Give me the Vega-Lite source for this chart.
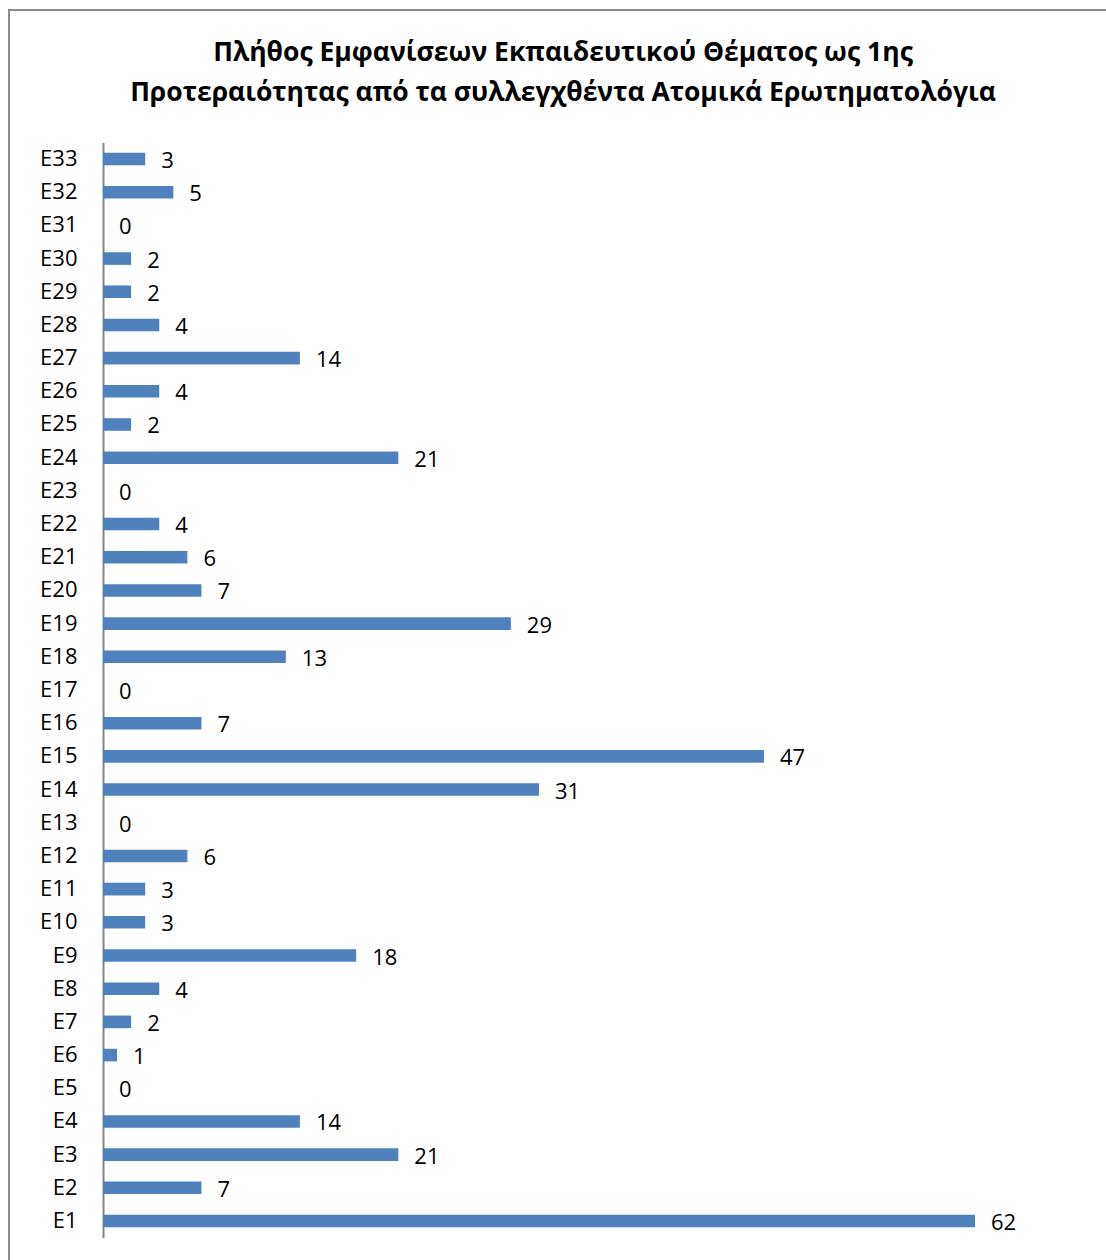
{
  "$schema": "https://vega.github.io/schema/vega-lite/v6.json",
  "autosize": {"type": "none"},
  "padding": {"left": 9, "top": 10, "right": 0, "bottom": 0},
  "width": 1102,
  "height": 1255,
  "background": "white",
  "title": {
    "text": ["Πλήθος Εμφανίσεων Εκπαιδευτικού Θέματος ως 1ης", "Προτεραιότητας από τα συλλεγχθέντα Ατομικά Ερωτηματολόγια"],
    "anchor": "middle",
    "orient": "top",
    "offset": -96,
    "dx": 3,
    "font": "Open Sans",
    "fontWeight": "bold",
    "fontSize": 26.5,
    "lineHeight": 40,
    "color": "black"
  },
  "config": {
    "view": {"stroke": "#8a8a8a", "strokeWidth": 2},
    "font": "Open Sans"
  },
  "data": {"values": [
    {"cat": "E33", "value": 3},
    {"cat": "E32", "value": 5},
    {"cat": "E31", "value": 0},
    {"cat": "E30", "value": 2},
    {"cat": "E29", "value": 2},
    {"cat": "E28", "value": 4},
    {"cat": "E27", "value": 14},
    {"cat": "E26", "value": 4},
    {"cat": "E25", "value": 2},
    {"cat": "E24", "value": 21},
    {"cat": "E23", "value": 0},
    {"cat": "E22", "value": 4},
    {"cat": "E21", "value": 6},
    {"cat": "E20", "value": 7},
    {"cat": "E19", "value": 29},
    {"cat": "E18", "value": 13},
    {"cat": "E17", "value": 0},
    {"cat": "E16", "value": 7},
    {"cat": "E15", "value": 47},
    {"cat": "E14", "value": 31},
    {"cat": "E13", "value": 0},
    {"cat": "E12", "value": 6},
    {"cat": "E11", "value": 3},
    {"cat": "E10", "value": 3},
    {"cat": "E9", "value": 18},
    {"cat": "E8", "value": 4},
    {"cat": "E7", "value": 2},
    {"cat": "E6", "value": 1},
    {"cat": "E5", "value": 0},
    {"cat": "E4", "value": 14},
    {"cat": "E3", "value": 21},
    {"cat": "E2", "value": 7},
    {"cat": "E1", "value": 62}
  ]},
  "encoding": {
    "y": {
      "field": "cat",
      "type": "nominal",
      "sort": null,
      "scale": {"range": [132.4, 1227.6], "paddingInner": 0.62, "paddingOuter": 0.31},
      "axis": {
        "title": null,
        "offset": -94,
        "ticks": false,
        "tickSize": 0,
        "labelPadding": 26,
        "labelFont": "Open Sans",
        "labelFontSize": 22,
        "labelColor": "black",
        "domainColor": "#868686",
        "domainWidth": 2,
        "grid": false
      }
    },
    "x": {
      "field": "value",
      "type": "quantitative",
      "scale": {"domain": [0, 71.67], "range": [94, 1102], "nice": false, "zero": false},
      "axis": null
    }
  },
  "layer": [
    {"mark": {"type": "bar", "color": "#4F81BD"}},
    {
      "mark": {"type": "text", "align": "left", "baseline": "middle", "dx": 16, "dy": 2, "font": "Open Sans", "fontSize": 22, "color": "black"},
      "encoding": {"text": {"field": "value", "type": "quantitative"}}
    }
  ]
}
